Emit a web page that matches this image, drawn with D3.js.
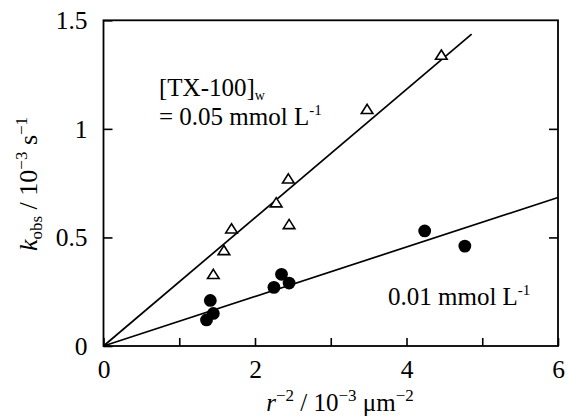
<!DOCTYPE html>
<html>
<head>
<meta charset="utf-8">
<script src="https://cdn.jsdelivr.net/npm/d3@7"></script>
<style>
  body { margin: 0; background: #fff; }
  text { font-family: "Liberation Serif", "Times New Roman", serif; fill: #000; }
</style>
</head>
<body>
<div id="main"></div>
<script>
// data (x: r^-2 / 10^-3 um^-2, y: kobs / 10^-3 s^-1)
var triX = [1.45, 1.59, 1.69, 2.28, 2.44, 2.45, 3.48, 4.46];
var triY = [0.33, 0.44, 0.54, 0.66, 0.77, 0.56, 1.09, 1.34];
var dotX = [1.36, 1.45, 1.41, 2.25, 2.35, 2.45, 4.24, 4.77];
var dotY = [0.12, 0.15, 0.21, 0.27, 0.33, 0.29, 0.53, 0.46];
var fitSlope = [0.2955, 0.114];
var fitEnd = [4.86, 6];
var xTicks = [0, 1, 2, 3, 4, 5, 6];
var yTicks = [0, 0.5, 1, 1.5];

var W = 569, H = 418;
var m = { left: 103.5, top: 20.3, right: 11, bottom: 72 };
var w = W - m.left - m.right, h = H - m.top - m.bottom;

var x = d3.scaleLinear().domain([0, 6]).range([0, w]);
var y = d3.scaleLinear().domain([0, 1.5]).range([h, 0]);

function transform(a, b) { return "translate(" + a + "," + b + ")"; }

var svg = d3.select('#main').append('svg').attr('width', W).attr('height', H);
var g = svg.append('g').attr('transform', transform(m.left, m.top));

// axes, ticks point inward
var fmt = function(d) { return d % 2 === 0 ? String(d) : ""; };
var xAxis = g.append('g').attr('transform', transform(0, h))
  .call(d3.axisBottom(x).tickValues(xTicks).tickFormat(fmt).tickSizeInner(-8).tickSizeOuter(0).tickPadding(14));
var yAxis = g.append('g')
  .call(d3.axisLeft(y).tickValues(yTicks).tickFormat(d3.format("")).tickSizeInner(-9).tickSizeOuter(0).tickPadding(16));
var yRight = g.append('g').attr('transform', transform(w, 0))
  .call(d3.axisRight(y).tickValues([0.5, 1]).tickFormat("").tickSizeInner(-9).tickSizeOuter(0));

[xAxis, yAxis, yRight].forEach(function(a) {
  a.selectAll('.domain').remove();
  a.selectAll('line').attr('stroke', '#000').attr('stroke-width', 1.6);
  a.selectAll('text').attr('font-size', 25.5).attr('font-family', '"Liberation Serif", serif').attr('fill', '#000');
});

// frame
g.append('rect').attr('width', w).attr('height', h)
  .attr('fill', 'none').attr('stroke', '#000').attr('stroke-width', 1.8);

// fitted lines through the origin
var line = d3.line().x(function(d) { return x(d[0]); }).y(function(d) { return y(d[1]); });
fitSlope.forEach(function(s, i) {
  g.append('path').datum([[0, 0], [fitEnd[i], s * fitEnd[i]]])
    .attr('d', line).attr('fill', 'none').attr('stroke', '#000').attr('stroke-width', 1.7);
});

// open triangles
var tri = d3.zip(triX, triY);
g.selectAll('path.tri').data(tri).enter().append('path').attr('class', 'tri')
  .attr('transform', function(d) { return transform(x(d[0]), y(d[1])); })
  .attr('d', 'M0,-5L5.8,4.2L-5.8,4.2Z')
  .attr('fill', '#fff').attr('stroke', '#000').attr('stroke-width', 1.6);

// filled circles
var dots = d3.zip(dotX, dotY);
g.selectAll('circle').data(dots).enter().append('circle')
  .attr('cx', function(d) { return x(d[0]); })
  .attr('cy', function(d) { return y(d[1]); })
  .attr('r', 6.4).attr('fill', '#000');

// annotations
var t1 = svg.append('text').attr('x', 159).attr('y', 96).attr('font-size', 25);
t1.append('tspan').text('[TX-100]');
t1.append('tspan').attr('font-size', 14).attr('dy', 4).text('w');

var t2 = svg.append('text').attr('x', 159).attr('y', 125).attr('font-size', 25);
t2.append('tspan').text('= 0.05 mmol L');
t2.append('tspan').attr('font-size', 15).attr('dy', -10).text('-1');

var t3 = svg.append('text').attr('x', 388).attr('y', 305).attr('font-size', 25);
t3.append('tspan').text('0.01 mmol L');
t3.append('tspan').attr('font-size', 15).attr('dy', -10).text('-1');

// x axis title
var xt = svg.append('text').attr('x', 340).attr('y', 411).attr('font-size', 25).attr('text-anchor', 'middle');
xt.append('tspan').attr('font-style', 'italic').text('r');
xt.append('tspan').attr('font-size', 17).attr('dy', -10).text('\u22122');
xt.append('tspan').attr('dy', 10).text(' / 10');
xt.append('tspan').attr('font-size', 17).attr('dy', -10).text('\u22123');
xt.append('tspan').attr('dy', 10).text(' \u03bcm');
xt.append('tspan').attr('font-size', 17).attr('dy', -10).text('\u22122');

// y axis title
var yt = svg.append('text').attr('transform', transform(37, 184) + ' rotate(-90)')
  .attr('font-size', 26).attr('text-anchor', 'middle');
yt.append('tspan').attr('font-style', 'italic').text('k');
yt.append('tspan').attr('font-size', 17).attr('dy', 5).text('obs');
yt.append('tspan').attr('dy', -5).text(' / 10');
yt.append('tspan').attr('font-size', 17).attr('dy', -10).text('\u22123');
yt.append('tspan').attr('dy', 10).text(' s');
yt.append('tspan').attr('font-size', 17).attr('dy', -10).text('\u22121');
</script>
</body>
</html>
